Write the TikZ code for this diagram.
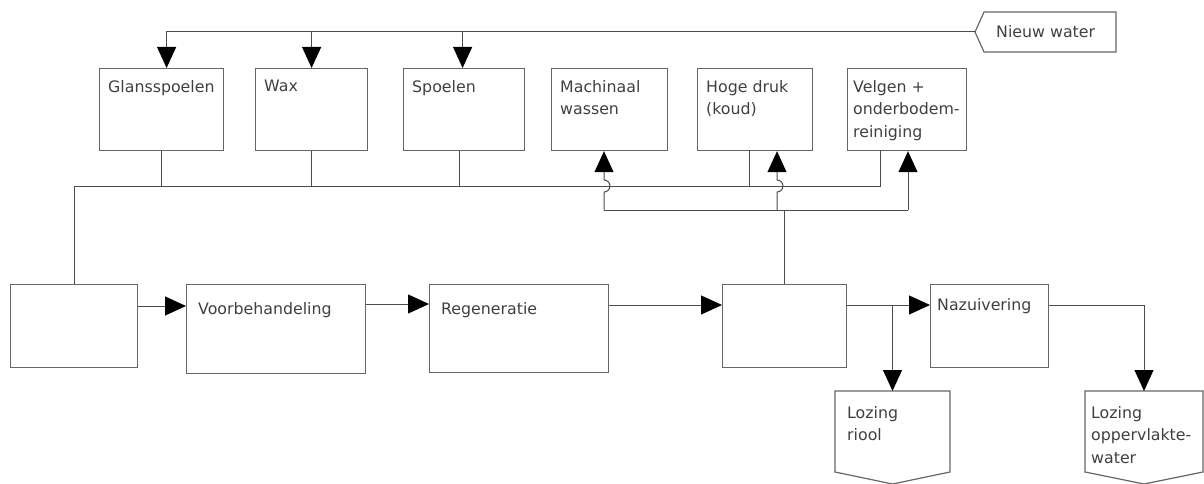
\documentclass[tikz,border=0pt]{standalone}
\usepackage{fontspec}
\setmainfont{DejaVu Sans}
\usetikzlibrary{arrows.meta}
\begin{document}
\begin{tikzpicture}[x=1pt,y=-1pt,
  line/.style={draw=black!70, line width=1pt},
  flow/.style={line, -{Triangle[length=21pt,width=19pt,color=black]}},
  box/.style 2 args={draw=black!60, line width=1.2pt, anchor=north west,
    inner sep=0pt, minimum width=#1, minimum height=#2},
  lbl/.style={anchor=north west, inner sep=0pt, align=left, text=black!75,
    font=\fontsize{15.8}{22.5}\selectfont}
]
\useasboundingbox (0,0) rectangle (1204,484);

% process boxes, top row
\node[box={124}{82}] (glans) at (99,68) {};
\node[box={112}{82}] (wax)   at (255,68) {};
\node[box={121}{82}] (spoel) at (403,68) {};
\node[box={116}{82}] (mach)  at (551,68) {};
\node[box={115}{82}] (hoge)  at (697,68) {};
\node[box={119}{82}] (velg)  at (847,68) {};

\node[lbl] (glans-t) at ([shift={(9pt,-12pt)}]glans.north west) {Glansspoelen};
\node[lbl] (wax-t)   at ([shift={(9pt,-12pt)}]wax.north west) {Wax};
\node[lbl] (spoel-t) at ([shift={(9pt,-12pt)}]spoel.north west) {Spoelen};
\node[lbl] (mach-t)  at ([shift={(9pt,-12pt)}]mach.north west) {Machinaal\\wassen};
\node[lbl] (hoge-t)  at ([shift={(9pt,-12pt)}]hoge.north west) {Hoge druk\\(koud)};
\node[lbl] (velg-t)  at ([shift={(6pt,-12pt)}]velg.north west) {Velgen +\\onderbodem-\\reiniging};

% treatment line, bottom row
\node[box={127}{83}] (inbox)  at (10,284) {};
\node[box={179}{89}] (voorb)  at (186,284) {};
\node[box={179}{88}] (regen)  at (429,284) {};
\node[box={124}{83}] (mid)    at (722,284) {};
\node[box={118}{83}] (nazuiv) at (930,284) {};

\node[lbl] (voorb-t)  at ([shift={(12pt,-18pt)}]voorb.north west) {Voorbehandeling};
\node[lbl] (regen-t)  at ([shift={(12pt,-18pt)}]regen.north west) {Regeneratie};
\node[lbl] (nazuiv-t) at ([shift={(7pt,-14pt)}]nazuiv.north west) {Nazuivering};

% fresh water supply
\coordinate (nwtip) at (975,32);
\draw[draw=black!60, line width=1.2pt] (nwtip) -- (984,12) -- (1116,12) -- (1116,52) -- (984,52) -- cycle;
\node[lbl, anchor=west] (nw-t) at (996,32) {Nieuw water};

% discharge points
\coordinate (riool) at (892.5,391);
\coordinate (opp) at (1144,391);
\draw[draw=black!60, line width=1.2pt] (835,391) -- (950,391) -- (950,472) -- (892.5,484) -- (835,472) -- cycle;
\draw[draw=black!60, line width=1.2pt] (1085,391) -- (1203,391) -- (1203,472) -- (1144,484) -- (1085,472) -- cycle;
\node[lbl] (riool-t) at (847,406) {Lozing\\riool};
\node[lbl] (opp-t) at (1091,406) {Lozing\\oppervlakte-\\water};

% fresh water to rinsing steps
\draw[flow] (nwtip) -| ([xshift=5pt]glans.north);
\draw[flow] (wax.north |- nwtip) -- (wax.north);
\draw[flow] ([xshift=-1.5pt]spoel.north |- nwtip) -- ([xshift=-1.5pt]spoel.north);

% collected waste water
\coordinate (coll) at (880,186);
\coordinate (hogeout) at (749,150);
\coordinate (velgout) at (880,150);
\draw[line] (inbox.north) |- (coll) -- (velgout);
\draw[line] (glans.south) -- (glans.south |- coll);
\draw[line] (wax.south) -- (wax.south |- coll);
\draw[line] ([xshift=-4.5pt]spoel.south) -- ([xshift=-4.5pt]spoel.south |- coll);
\draw[line] (hogeout) -- (hogeout |- coll);

% recycled water back to washing steps
\coordinate (retL) at (604,210);
\coordinate (retM) at (777,210);
\coordinate (retR) at (908,210);
\draw[line] (retL) -- (retR);
\draw[line] (mid.north) -- (mid.north |- retL);
\draw[flow] (retL) -- ++(0,-18) arc[start angle=90, end angle=-90, radius=6] -- (retL |- mach.south);
\draw[flow] (retM) -- ++(0,-18) arc[start angle=90, end angle=-90, radius=6] -- (retM |- hoge.south);
\draw[flow] (retR) -- (retR |- velg.south);

% main treatment chain
\coordinate (a1) at ([yshift=-22pt]inbox.north east);
\coordinate (a2) at ([yshift=-20pt]voorb.north east);
\coordinate (a3) at ([yshift=-21pt]regen.north east);
\coordinate (a4) at ([yshift=-21pt]mid.north east);
\coordinate (a5) at ([yshift=-21pt]nazuiv.north east);
\draw[flow] (a1) -- (a1 -| voorb.west);
\draw[flow] (a2) -- (a2 -| regen.west);
\draw[flow] (a3) -- (a3 -| mid.west);
\draw[flow] (a4) -- (a4 -| nazuiv.west);
\draw[flow] (a4 -| riool) -- (riool);
\draw[flow] (a5) -| (opp);
\end{tikzpicture}
\end{document}
